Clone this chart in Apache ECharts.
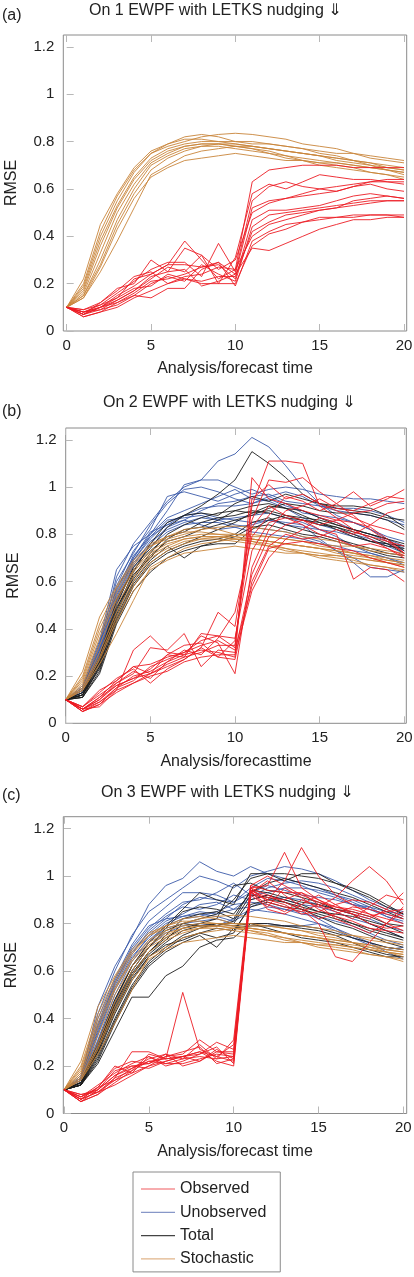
<!DOCTYPE html>
<html><head><meta charset="utf-8">
<script src="https://cdn.jsdelivr.net/npm/echarts@6/dist/echarts.min.js"></script>
<style>html,body{margin:0;padding:0;background:#fff}#c{width:414px;height:1277px}</style>
</head><body><div id="c"></div>
<script>
const times = [0,1,2,3,4,5,6,7,8,9,10,11,12,13,14,15,16,17,18,19,20];
const xTicks = [0,5,10,15,20];
const yTicks = [0,0.2,0.4,0.6,0.8,1,1.2];
const panelTags = ['(a)','(b)','(c)'];
const panelTitles = ['On 1 EWPF with LETKS nudging \u21D3','On 2 EWPF with LETKS nudging \u21D3','On 3 EWPF with LETKS nudging \u21D3'];
const xNames = ['Analysis/forecast time','Analysis/forecasttime','Analysis/forecast time'];
const legendNames = ['Observed','Unobserved','Total','Stochastic'];

// Stochastic (same reference run in all panels)
const stochastic = [
[0.10,0.22,0.45,0.58,0.69,0.76,0.79,0.82,0.83,0.82,0.80,0.79,0.79,0.78,0.77,0.76,0.75,0.75,0.74,0.73,0.72],
[0.10,0.20,0.42,0.57,0.68,0.75,0.78,0.80,0.82,0.83,0.835,0.83,0.82,0.81,0.79,0.78,0.77,0.75,0.73,0.72,0.71],
[0.10,0.19,0.40,0.55,0.67,0.75,0.79,0.81,0.81,0.80,0.79,0.78,0.77,0.76,0.75,0.74,0.72,0.71,0.70,0.69,0.68],
[0.10,0.18,0.38,0.53,0.65,0.73,0.77,0.79,0.80,0.80,0.80,0.80,0.79,0.78,0.77,0.75,0.74,0.72,0.71,0.69,0.68],
[0.10,0.17,0.36,0.52,0.64,0.72,0.76,0.78,0.79,0.79,0.78,0.77,0.76,0.74,0.73,0.72,0.71,0.70,0.69,0.68,0.67],
[0.10,0.16,0.33,0.50,0.62,0.71,0.75,0.78,0.79,0.79,0.78,0.77,0.75,0.74,0.72,0.71,0.70,0.69,0.67,0.66,0.65],
[0.10,0.15,0.30,0.47,0.60,0.70,0.74,0.77,0.78,0.78,0.77,0.76,0.75,0.73,0.72,0.70,0.69,0.68,0.67,0.66,0.64],
[0.10,0.15,0.28,0.45,0.58,0.68,0.73,0.76,0.78,0.79,0.79,0.78,0.77,0.76,0.75,0.74,0.73,0.72,0.71,0.70,0.69],
[0.10,0.14,0.27,0.43,0.56,0.65,0.69,0.72,0.73,0.74,0.75,0.74,0.73,0.72,0.72,0.71,0.71,0.70,0.69,0.68,0.67],
[0.10,0.14,0.25,0.38,0.52,0.66,0.70,0.74,0.76,0.77,0.78,0.78,0.77,0.76,0.75,0.74,0.73,0.72,0.70,0.68,0.66]
];

// Panel (a) observed
const observedA = [
[0.10,0.08,0.10,0.14,0.22,0.24,0.28,0.38,0.30,0.22,0.26,0.63,0.68,0.69,0.70,0.70,0.70,0.69,0.69,0.69,0.69],
[0.10,0.07,0.12,0.18,0.20,0.30,0.25,0.35,0.32,0.20,0.31,0.58,0.62,0.60,0.63,0.66,0.65,0.64,0.64,0.63,0.63],
[0.10,0.09,0.11,0.16,0.21,0.26,0.29,0.29,0.23,0.37,0.25,0.55,0.61,0.63,0.61,0.60,0.59,0.61,0.62,0.60,0.59],
[0.10,0.07,0.10,0.15,0.19,0.24,0.28,0.28,0.27,0.29,0.24,0.52,0.55,0.56,0.58,0.60,0.61,0.62,0.63,0.64,0.64],
[0.10,0.08,0.09,0.13,0.17,0.22,0.27,0.25,0.32,0.26,0.30,0.50,0.54,0.56,0.57,0.58,0.59,0.61,0.63,0.63,0.62],
[0.10,0.06,0.08,0.12,0.16,0.21,0.22,0.24,0.27,0.28,0.22,0.47,0.51,0.51,0.52,0.53,0.55,0.57,0.58,0.57,0.56],
[0.10,0.07,0.10,0.12,0.15,0.20,0.23,0.21,0.28,0.24,0.21,0.44,0.49,0.50,0.51,0.52,0.53,0.54,0.55,0.55,0.55],
[0.10,0.08,0.11,0.14,0.18,0.19,0.24,0.22,0.21,0.23,0.23,0.42,0.46,0.49,0.50,0.51,0.52,0.53,0.54,0.55,0.55],
[0.10,0.09,0.12,0.17,0.23,0.25,0.20,0.23,0.24,0.27,0.26,0.40,0.45,0.47,0.49,0.51,0.52,0.55,0.56,0.57,0.56],
[0.10,0.07,0.09,0.11,0.15,0.14,0.18,0.18,0.26,0.29,0.19,0.38,0.42,0.45,0.46,0.47,0.48,0.48,0.49,0.49,0.49],
[0.10,0.06,0.08,0.10,0.14,0.17,0.20,0.22,0.20,0.20,0.20,0.36,0.41,0.43,0.46,0.48,0.48,0.49,0.49,0.49,0.48],
[0.10,0.08,0.10,0.13,0.17,0.23,0.25,0.26,0.19,0.21,0.24,0.35,0.34,0.37,0.40,0.43,0.45,0.47,0.47,0.48,0.48]
];

// Panel (b)
const unobservedB = [
[0.10,0.15,0.33,0.62,0.76,0.85,0.94,1.00,1.03,1.11,1.14,1.21,1.17,1.09,1.00,0.93,0.88,0.85,0.82,0.78,0.75],
[0.10,0.16,0.35,0.65,0.75,0.80,0.90,1.01,1.03,1.03,1.00,0.97,0.99,1.00,0.99,0.97,0.96,0.95,0.95,0.94,0.93],
[0.10,0.14,0.32,0.58,0.73,0.82,0.96,0.98,0.96,0.94,0.97,0.99,0.96,0.93,0.89,0.88,0.87,0.85,0.82,0.79,0.77],
[0.10,0.15,0.34,0.60,0.72,0.84,0.93,0.99,1.00,0.98,0.95,0.93,0.96,0.98,0.96,0.92,0.90,0.89,0.88,0.86,0.84],
[0.10,0.14,0.30,0.55,0.70,0.80,0.87,0.90,0.93,0.96,0.99,0.95,0.94,0.91,0.87,0.84,0.82,0.80,0.78,0.75,0.72],
[0.10,0.13,0.29,0.53,0.69,0.78,0.85,0.88,0.91,0.92,0.92,0.93,0.95,0.92,0.90,0.87,0.85,0.82,0.80,0.77,0.74],
[0.10,0.15,0.31,0.56,0.71,0.79,0.86,0.87,0.88,0.86,0.87,0.88,0.89,0.87,0.85,0.82,0.79,0.75,0.72,0.70,0.68],
[0.10,0.14,0.28,0.51,0.67,0.77,0.82,0.85,0.87,0.86,0.84,0.83,0.82,0.81,0.79,0.77,0.73,0.70,0.66,0.65,0.64],
[0.10,0.13,0.30,0.52,0.68,0.76,0.83,0.86,0.84,0.82,0.83,0.84,0.86,0.85,0.84,0.78,0.73,0.68,0.62,0.62,0.65],
[0.10,0.14,0.29,0.50,0.66,0.75,0.81,0.84,0.85,0.85,0.83,0.81,0.80,0.79,0.78,0.76,0.75,0.73,0.72,0.70,0.67],
[0.10,0.15,0.33,0.57,0.70,0.81,0.84,0.86,0.90,0.93,0.94,0.96,0.97,0.94,0.93,0.92,0.91,0.91,0.90,0.88,0.85],
[0.10,0.14,0.31,0.54,0.69,0.79,0.84,0.88,0.89,0.87,0.86,0.85,0.86,0.84,0.83,0.82,0.81,0.79,0.77,0.76,0.73]
];
const totalB = [
[0.10,0.12,0.27,0.50,0.66,0.74,0.83,0.88,0.92,0.97,1.03,1.15,1.10,1.04,0.97,0.93,0.91,0.90,0.89,0.87,0.86],
[0.10,0.12,0.26,0.48,0.64,0.76,0.85,0.88,0.89,0.88,0.93,0.96,0.94,0.97,0.95,0.93,0.92,0.92,0.91,0.88,0.83],
[0.10,0.11,0.24,0.46,0.62,0.72,0.80,0.84,0.87,0.89,0.90,0.92,0.93,0.91,0.88,0.85,0.83,0.80,0.77,0.75,0.74],
[0.10,0.12,0.25,0.47,0.63,0.70,0.78,0.82,0.83,0.86,0.90,0.89,0.90,0.88,0.86,0.85,0.82,0.79,0.77,0.76,0.75],
[0.10,0.13,0.28,0.52,0.65,0.73,0.79,0.81,0.85,0.87,0.88,0.90,0.89,0.87,0.86,0.84,0.83,0.81,0.79,0.76,0.72],
[0.10,0.11,0.22,0.44,0.59,0.68,0.73,0.76,0.79,0.82,0.85,0.89,0.92,0.91,0.90,0.87,0.84,0.82,0.80,0.78,0.76],
[0.10,0.12,0.23,0.43,0.58,0.67,0.72,0.75,0.77,0.78,0.80,0.85,0.87,0.84,0.82,0.80,0.78,0.76,0.74,0.72,0.71],
[0.10,0.11,0.21,0.42,0.56,0.64,0.70,0.73,0.75,0.77,0.79,0.83,0.84,0.82,0.80,0.79,0.77,0.75,0.73,0.71,0.70],
[0.10,0.12,0.24,0.45,0.60,0.69,0.75,0.70,0.75,0.76,0.76,0.82,0.86,0.88,0.87,0.86,0.84,0.82,0.80,0.78,0.73],
[0.10,0.13,0.26,0.49,0.61,0.71,0.77,0.79,0.82,0.84,0.86,0.88,0.91,0.93,0.92,0.90,0.89,0.89,0.88,0.86,0.82]
];
const observedB = [
[0.10,0.06,0.09,0.15,0.20,0.22,0.26,0.29,0.31,0.30,0.28,1.04,0.95,0.93,0.90,0.88,0.86,0.85,0.83,0.78,0.72],
[0.10,0.05,0.08,0.13,0.17,0.21,0.25,0.28,0.30,0.33,0.33,0.92,1.11,1.11,1.10,0.92,0.87,0.82,0.78,0.74,0.70],
[0.10,0.06,0.10,0.16,0.19,0.21,0.24,0.27,0.32,0.47,0.41,0.86,1.03,1.02,1.04,0.98,0.93,0.88,0.82,0.77,0.72],
[0.10,0.07,0.12,0.17,0.22,0.19,0.26,0.31,0.29,0.36,0.47,0.79,0.88,0.96,0.94,0.90,0.93,0.98,0.92,0.95,0.99],
[0.10,0.06,0.11,0.18,0.24,0.21,0.29,0.28,0.38,0.37,0.36,0.73,0.85,0.87,0.84,0.80,0.78,0.75,0.76,0.74,0.71],
[0.10,0.05,0.09,0.14,0.31,0.37,0.30,0.29,0.37,0.34,0.21,0.66,0.82,0.90,0.92,0.95,0.91,0.90,0.93,0.96,0.95],
[0.10,0.06,0.10,0.17,0.21,0.32,0.31,0.38,0.24,0.31,0.30,0.63,0.79,0.84,0.86,0.82,0.80,0.61,0.66,0.65,0.60],
[0.10,0.07,0.13,0.19,0.23,0.17,0.23,0.27,0.32,0.28,0.27,0.60,0.75,0.80,0.78,0.79,0.82,0.80,0.84,0.89,0.91],
[0.10,0.05,0.08,0.15,0.18,0.24,0.27,0.30,0.33,0.35,0.31,0.58,0.74,0.76,0.77,0.76,0.74,0.73,0.70,0.68,0.66],
[0.10,0.06,0.07,0.14,0.17,0.20,0.22,0.26,0.28,0.29,0.29,0.56,0.70,0.78,0.82,0.87,0.85,0.81,0.79,0.77,0.75],
[0.10,0.07,0.14,0.18,0.24,0.25,0.28,0.30,0.35,0.37,0.32,0.95,1.01,0.95,0.97,0.93,0.90,0.87,0.84,0.82,0.80],
[0.10,0.06,0.11,0.16,0.19,0.23,0.29,0.33,0.34,0.28,0.35,0.83,0.92,0.88,0.86,0.84,0.86,0.89,0.90,0.93,0.94]
];

// Panel (c)
const unobservedC = [
[0.10,0.15,0.45,0.62,0.74,0.88,0.96,0.99,1.06,1.02,1.00,1.04,1.01,0.99,0.97,0.95,0.92,0.89,0.86,0.83,0.81],
[0.10,0.16,0.42,0.60,0.75,0.85,0.90,0.95,1.00,0.98,0.95,1.00,1.02,1.04,1.03,1.01,0.98,0.94,0.90,0.87,0.85],
[0.10,0.14,0.40,0.57,0.71,0.81,0.87,0.93,0.93,0.92,0.89,0.95,0.99,0.98,0.96,0.93,0.91,0.88,0.86,0.84,0.82],
[0.10,0.15,0.37,0.55,0.69,0.78,0.84,0.89,0.90,0.93,0.97,0.92,0.93,0.95,0.95,0.94,0.92,0.90,0.87,0.83,0.80],
[0.10,0.14,0.35,0.54,0.67,0.77,0.83,0.87,0.86,0.88,0.92,0.90,0.92,0.90,0.88,0.87,0.85,0.82,0.80,0.77,0.74],
[0.10,0.13,0.33,0.52,0.65,0.75,0.81,0.84,0.88,0.89,0.86,0.87,0.90,0.91,0.90,0.88,0.86,0.84,0.82,0.79,0.77],
[0.10,0.15,0.38,0.56,0.70,0.79,0.82,0.83,0.85,0.84,0.86,0.91,0.95,0.97,0.98,0.97,0.95,0.92,0.89,0.86,0.83],
[0.10,0.14,0.31,0.50,0.64,0.73,0.79,0.82,0.83,0.85,0.88,0.89,0.88,0.86,0.84,0.83,0.81,0.79,0.76,0.73,0.71],
[0.10,0.13,0.30,0.48,0.62,0.72,0.78,0.80,0.81,0.82,0.80,0.80,0.80,0.79,0.79,0.80,0.78,0.74,0.71,0.69,0.70],
[0.10,0.14,0.34,0.53,0.66,0.74,0.80,0.83,0.84,0.83,0.81,0.85,0.87,0.86,0.85,0.82,0.78,0.75,0.72,0.68,0.65],
[0.10,0.15,0.36,0.55,0.68,0.76,0.82,0.88,0.91,0.90,0.89,0.93,0.96,0.94,0.92,0.91,0.90,0.88,0.87,0.85,0.84],
[0.10,0.14,0.29,0.46,0.60,0.70,0.76,0.79,0.80,0.79,0.82,0.86,0.85,0.84,0.82,0.80,0.77,0.74,0.72,0.70,0.69]
];
const totalC = [
[0.10,0.13,0.30,0.48,0.62,0.72,0.79,0.86,0.93,0.90,0.88,1.01,1.01,0.98,1.01,1.01,0.97,0.94,0.91,0.87,0.84],
[0.10,0.12,0.28,0.46,0.60,0.70,0.78,0.85,0.87,0.86,0.84,0.93,0.97,0.99,0.97,0.95,0.93,0.91,0.88,0.85,0.82],
[0.10,0.12,0.26,0.44,0.58,0.68,0.75,0.82,0.84,0.85,0.82,0.94,0.93,0.91,0.89,0.88,0.86,0.85,0.83,0.80,0.79],
[0.10,0.13,0.27,0.45,0.59,0.68,0.74,0.78,0.80,0.82,0.96,0.97,0.94,0.93,0.91,0.89,0.86,0.84,0.80,0.77,0.74],
[0.10,0.12,0.25,0.42,0.56,0.66,0.72,0.77,0.79,0.80,0.80,0.90,0.92,0.90,0.88,0.85,0.83,0.80,0.77,0.75,0.73],
[0.10,0.12,0.24,0.40,0.54,0.64,0.70,0.75,0.78,0.80,0.79,0.80,0.80,0.79,0.79,0.78,0.76,0.74,0.72,0.70,0.69],
[0.10,0.13,0.26,0.43,0.57,0.66,0.71,0.73,0.76,0.74,0.76,0.88,0.90,0.89,0.87,0.85,0.84,0.83,0.81,0.79,0.76],
[0.10,0.12,0.22,0.38,0.52,0.62,0.68,0.72,0.75,0.70,0.78,0.79,0.79,0.79,0.78,0.77,0.75,0.72,0.69,0.67,0.66],
[0.10,0.13,0.28,0.47,0.62,0.70,0.77,0.80,0.82,0.84,0.90,0.99,1.01,1.01,1.00,0.99,0.97,0.95,0.92,0.88,0.84],
[0.10,0.12,0.21,0.35,0.49,0.49,0.58,0.62,0.70,0.73,0.74,0.80,0.78,0.76,0.74,0.73,0.72,0.70,0.68,0.66,0.66],
[0.10,0.12,0.23,0.39,0.53,0.63,0.69,0.74,0.76,0.78,0.77,0.87,0.89,0.87,0.86,0.84,0.82,0.80,0.78,0.76,0.74],
[0.10,0.13,0.27,0.45,0.58,0.67,0.73,0.80,0.79,0.79,0.81,0.92,0.91,0.89,0.86,0.83,0.80,0.78,0.75,0.72,0.70]
];
const observedC = [
[0.10,0.06,0.09,0.15,0.26,0.26,0.23,0.24,0.22,0.27,0.23,0.95,0.96,1.10,0.95,0.90,0.87,0.85,0.83,0.85,0.86],
[0.10,0.05,0.08,0.13,0.18,0.22,0.23,0.51,0.27,0.24,0.22,0.94,0.90,0.98,1.12,1.00,0.92,0.88,0.84,0.82,0.80],
[0.10,0.07,0.10,0.18,0.20,0.21,0.24,0.25,0.31,0.26,0.25,0.93,0.88,0.85,0.90,0.87,0.91,0.98,1.04,0.98,0.88],
[0.10,0.06,0.11,0.20,0.17,0.24,0.20,0.22,0.25,0.30,0.27,0.95,0.92,0.89,0.86,0.80,0.66,0.64,0.72,0.80,0.85],
[0.10,0.08,0.09,0.14,0.19,0.23,0.25,0.23,0.24,0.23,0.31,0.96,0.94,0.93,0.93,0.90,0.86,0.84,0.82,0.86,0.93],
[0.10,0.05,0.10,0.16,0.20,0.19,0.22,0.24,0.26,0.22,0.20,0.92,0.87,0.95,0.91,0.86,0.83,0.81,0.78,0.77,0.76],
[0.10,0.07,0.12,0.17,0.21,0.24,0.21,0.21,0.23,0.25,0.24,0.94,0.86,0.84,0.88,0.92,0.88,0.84,0.80,0.78,0.79],
[0.10,0.06,0.09,0.12,0.16,0.20,0.24,0.26,0.28,0.21,0.23,0.93,0.98,0.92,0.87,0.82,0.84,0.87,0.86,0.84,0.82],
[0.10,0.07,0.11,0.19,0.22,0.21,0.25,0.20,0.22,0.26,0.26,0.95,0.89,0.87,0.85,0.88,0.85,0.82,0.87,0.92,0.90],
[0.10,0.05,0.08,0.15,0.18,0.25,0.23,0.24,0.25,0.28,0.21,0.94,0.91,0.90,0.93,0.88,0.82,0.79,0.76,0.80,0.87],
[0.10,0.08,0.10,0.16,0.19,0.22,0.21,0.23,0.29,0.23,0.24,0.96,1.00,0.96,0.92,0.89,0.87,0.86,0.84,0.80,0.77],
[0.10,0.06,0.11,0.14,0.17,0.20,0.22,0.24,0.26,0.24,0.29,0.93,0.90,0.88,0.84,0.85,0.88,0.90,0.89,0.86,0.83]
];

const COLORS = {Observed:'#ec1c24', Unobserved:'#3b5aa9', Total:'#1c1c1c', Stochastic:'#c8843a'};
const LEGEND_COLORS = {Observed:'#ef5a5f', Unobserved:'#8797c8', Total:'#444444', Stochastic:'#e0b48a'};
const FONT = "'Liberation Sans','DejaVu Sans',Arial,sans-serif";

const grids = [
  {left:63.3, top:35, width:343.4, height:296, xmin:-0.2, xmax:20.16},
  {left:65.7, top:428, width:340.6, height:295.3, xmin:0, xmax:20.12},
  {left:63.3, top:816.7, width:343.4, height:296.8, xmin:-0.04, xmax:20.2}
];
const panels = [
  [['Stochastic', stochastic], ['Observed', observedA]],
  [['Unobserved', unobservedB], ['Total', totalB], ['Stochastic', stochastic], ['Observed', observedB]],
  [['Unobserved', unobservedC], ['Total', totalC], ['Stochastic', stochastic], ['Observed', observedC]]
];
const titlePos = [
  {tagTop:8, titleLeft:89, titleTop:3},
  {tagTop:404, titleLeft:103, titleTop:395},
  {tagTop:788, titleLeft:101, titleTop:785}
];

const tickStyle = {show:true, inside:true, length:7, lineStyle:{color:'#b8b8b8', width:1}};
const option = {
  animation:false,
  backgroundColor:'#fff',
  title:[], grid:[], xAxis:[], yAxis:[], series:[],
  legend:{
    data: legendNames.map(n => ({name:n, icon:'rect', itemStyle:{color:LEGEND_COLORS[n]}})),
    orient:'vertical', left:133, top:1172, height:100,
    padding:[8,14,4,8], itemWidth:34, itemHeight:1.2, itemGap:5.3,
    borderColor:'#8a8a8a', borderWidth:1, selectedMode:false,
    textStyle:{fontSize:16, lineHeight:18, color:'#222', fontFamily:FONT, padding:[0,0,0,0]}
  }
};
grids.forEach((g, i) => {
  option.title.push({text:panelTags[i], left:2, top:titlePos[i].tagTop, padding:0,
    textStyle:{fontSize:16, fontWeight:'normal', color:'#222', fontFamily:FONT}});
  option.title.push({text:panelTitles[i], left:titlePos[i].titleLeft, top:titlePos[i].titleTop, padding:0,
    textStyle:{fontSize:16, fontWeight:'normal', color:'#222', fontFamily:FONT}});
  option.grid.push({left:g.left, top:g.top, width:g.width, height:g.height, show:true,
    outerBoundsMode:'none', containLabel:false,
    borderColor:'#8a8a8a', borderWidth:1, backgroundColor:'transparent'});
  option.xAxis.push({type:'value', gridIndex:i, position:'bottom', min:g.xmin, max:g.xmax,
    axisLine:{show:false}, splitLine:{show:false},
    axisTick:Object.assign({customValues:xTicks}, tickStyle),
    axisLabel:{customValues:xTicks, margin:7, fontSize:15, color:'#222', fontFamily:FONT},
    name:xNames[i], nameLocation:'middle', nameGap:30,
    nameTextStyle:{fontSize:16, color:'#222', fontFamily:FONT}});
  option.xAxis.push({type:'value', gridIndex:i, position:'top', min:g.xmin, max:g.xmax,
    axisLine:{show:false}, splitLine:{show:false}, axisLabel:{show:false},
    axisTick:Object.assign({customValues:xTicks}, tickStyle)});
  option.yAxis.push({type:'value', gridIndex:i, min:0, max:1.25,
    axisLine:{show:false}, splitLine:{show:false},
    axisTick:Object.assign({customValues:yTicks}, tickStyle),
    axisLabel:{customValues:yTicks, margin:9, fontSize:15, color:'#222', fontFamily:FONT,
      formatter:v => String(v)},
    name:'RMSE', nameLocation:'middle', nameGap:44, nameRotate:90,
    nameTextStyle:{fontSize:16, color:'#222', fontFamily:FONT}});
  panels[i].forEach(([name, sets], k) => {
    sets.forEach(vals => {
      option.series.push({type:'line', name, xAxisIndex:i*2, yAxisIndex:i,
        data: vals.map((v, t) => [times[t], v]),
        symbol:'none', silent:true, z:2 + k,
        lineStyle:{color:COLORS[name], width:0.9}, itemStyle:{color:COLORS[name]}});
    });
  });
});
const chart = echarts.init(document.getElementById('c'), null, {renderer:'canvas'});
chart.setOption(option);
</script></body></html>
